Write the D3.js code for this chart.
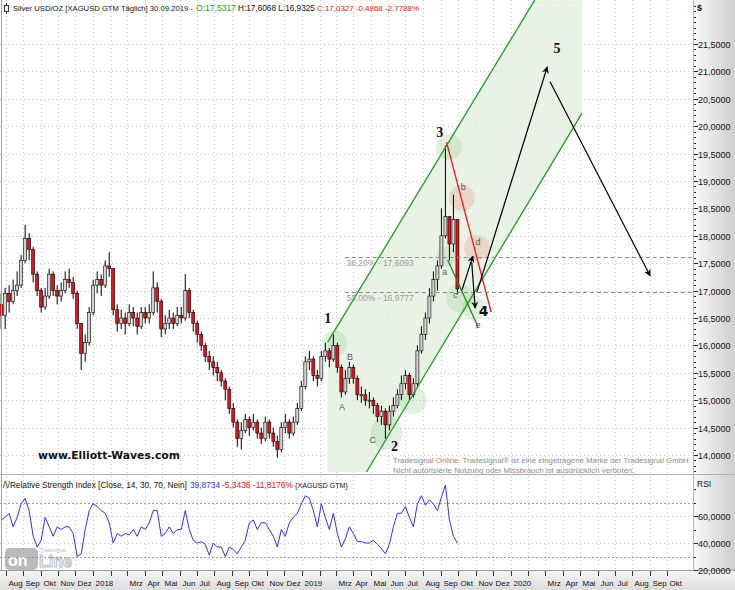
<!DOCTYPE html>
<html><head><meta charset="utf-8">
<script src="https://cdn.jsdelivr.net/npm/d3@7"></script>
<style>
body{margin:0;background:#fff;}
svg{display:block;font-family:"Liberation Sans",Arial,sans-serif;}
</style>
</head><body>
<svg id="c" width="735" height="590"></svg>
<script>
// ---------------- DATA ----------------
// weekly bars, first week starting 2017-07-24
const firstWeek = "2017-07-24";
const firstOpen = 16.75;
const closes = [16.55,16.95,16.80,17.00,17.10,17.55,17.95,17.75,17.30,17.00,
16.70,16.90,17.30,17.00,16.90,17.00,17.20,17.15,16.95,16.40,
15.85,16.05,16.60,17.10,17.20,17.10,17.45,17.40,16.65,16.40,
16.50,16.40,16.60,16.50,16.35,16.60,16.50,16.60,17.05,16.80,
16.30,16.40,16.50,16.40,16.55,16.50,17.00,16.60,16.40,16.20,
16.00,15.80,15.70,15.60,15.50,15.35,15.20,14.85,14.60,14.30,
14.45,14.65,14.50,14.60,14.40,14.30,14.60,14.40,14.25,14.10,
14.50,14.60,14.40,14.60,14.85,15.25,15.70,15.75,15.45,15.40,
15.80,15.90,15.75,16.00,15.60,15.15,15.40,15.60,15.40,15.10,
15.10,15.00,15.00,14.90,14.70,14.80,14.55,14.80,14.90,15.10,
15.30,15.45,15.10,15.30,15.90,16.20,16.50,16.90,17.20,17.45,
18.00,18.35,17.85,18.30,17.03];
const highs = [16.95,17.05,17.10,17.20,17.35,17.65,18.20,18.05,17.80,17.35,
17.05,17.05,17.40,17.35,17.10,17.15,17.35,17.40,17.25,17.00,
16.40,16.20,16.70,17.20,17.35,17.30,17.55,17.70,17.40,16.75,
16.65,16.60,16.75,16.70,16.60,16.70,16.70,16.75,17.35,17.15,
16.85,16.55,16.65,16.60,16.70,16.70,17.30,17.05,16.65,16.45,
16.25,16.05,15.90,15.80,15.70,15.55,15.40,15.25,14.95,14.65,
14.60,14.75,14.70,14.75,14.65,14.50,14.70,14.65,14.50,14.35,
14.60,14.75,14.65,14.70,14.95,15.35,15.80,15.90,15.80,15.55,
15.90,16.05,15.95,16.20,16.05,15.65,15.55,15.70,15.65,15.45,
15.25,15.20,15.15,15.05,14.95,14.90,14.85,14.90,15.05,15.20,
15.45,15.55,15.50,15.40,16.00,16.35,16.60,17.05,17.35,17.55,
18.50,19.65,18.30,18.75,17.61];
const lows = [16.30,16.30,16.60,16.75,16.90,17.05,17.50,17.55,17.15,16.90,
16.60,16.65,16.85,16.90,16.75,16.80,16.95,17.05,16.85,16.30,
15.55,15.70,16.00,16.55,16.95,16.90,17.05,17.25,16.55,16.25,
16.30,16.20,16.35,16.35,16.20,16.30,16.40,16.40,16.55,16.60,
16.15,16.20,16.30,16.30,16.35,16.40,16.45,16.50,16.25,16.05,
15.90,15.70,15.55,15.45,15.35,15.25,15.00,14.75,14.50,14.15,
14.10,14.40,14.35,14.45,14.30,14.20,14.25,14.30,14.15,13.95,
14.05,14.40,14.30,14.35,14.55,14.80,15.20,15.55,15.35,15.25,
15.35,15.70,15.60,15.70,15.50,15.05,15.10,15.30,15.30,15.00,
14.95,14.90,14.85,14.75,14.60,14.55,14.30,14.45,14.70,14.85,
15.00,15.20,15.00,15.05,15.25,15.85,16.10,16.40,16.80,17.00,
17.40,17.95,17.55,17.70,16.93];
// RSI (14) weekly samples
const rsi = [57,59,62,52,59,69,73,64,45,37,
42,59,52,45,52,50,52,52,47,30,
32,50,64,69,67,64,62,55,40,47,
45,47,46,50,45,52,50,55,64,64,
45,47,52,47,50,50,64,50,42,40,
41,39,31,40,37,37,30,37,35,32,
37,42,55,57,50,55,55,50,45,37,
50,45,55,59,62,69,75,73,64,52,
69,59,50,62,47,37,43,52,47,41,
41,40,40,42,39,36,32,39,52,62,
62,67,59,52,69,75,68,72,69,64,
74,83,57,45,39.87];
const priceTicks = [14,14.5,15,15.5,16,16.5,17,17.5,18,18.5,19,19.5,20,20.5,21,21.5];
const rsiTicks = [20,40,60];
const rsiLevels = [30,70];
const monthNames = ["","","Mrz","Apr","Mai","Jun","Jul","Aug","Sep","Okt","Nov","Dez"];
const fibLevels = [{label:"38,20% - 17,6093", value:17.6093},{label:"50,00% - 16,9777", value:16.9777}];
// Elliott annotations (date, price)
const upperChannel = [["2019-02-15",16.06],["2020-02-12",22.30]];
const lowerChannel = [["2019-04-24",13.69],["2020-05-05",20.24]];
const channelBox = {from:"2019-02-15", to:"2020-05-05", top:22.30, bottom:13.69};
const redLine = [["2019-09-11",19.71],["2019-11-28",16.61]];
const greenLine = [["2019-09-13",17.56],["2019-11-05",16.34]];
const arrows = [
 [["2019-10-08",17.01],["2019-10-27",17.63]],
 [["2019-10-25",17.52],["2019-10-31",16.68]],
 [["2019-11-03",16.97],["2020-03-05",21.08]],
 [["2020-03-10",20.81],["2020-09-01",17.27]]
];
const greenCircles = [["2019-02-27",16.04,13],["2019-05-29",14.40,16],["2019-07-14",15.0,14],["2019-09-15",19.62,13],["2019-09-11",17.63,10],["2019-10-04",16.86,14],["2019-10-29",16.68,12]];
const redCircles = [["2019-10-08",18.69,13],["2019-11-03",17.78,13]];
const waveLabels = [["1","2019-02-15",16.41],["2","2019-06-12",14.07],["3","2019-08-30",19.80],["4","2019-11-15",16.54],["5","2020-03-22",21.34]];
const subLabels = [["A","2019-03-12",14.82],["B","2019-03-26",15.73],["C","2019-05-05",14.22],["a","2019-09-08",17.28],["b","2019-10-10",18.84],["c","2019-09-26",16.86],["d","2019-11-05",17.83],["e","2019-11-05",16.32]];

// ---------------- LAYOUT ----------------
const W=735,H=590, plotR=693, mainTop=0, mainBot=473, rsiTop=476, rsiBot=570;
const svg=d3.select("#c");
const pd=d3.utcParse("%Y-%m-%d");
const x=d3.scaleUtc().domain([pd("2017-07-22"),pd("2020-11-15")]).range([0,plotR]);
const y=d3.scaleLinear().domain([14,21.5]).range([455,44]);
const yr=d3.scaleLinear().domain([20,60]).range([570,516]);
const fmt=v=>d3.format(".4f")(v).replace(".",",");

const defs=svg.append("defs");
const gR=defs.append("linearGradient").attr("id","gr").attr("x1",0).attr("x2",1).attr("y1",0).attr("y2",0);
gR.append("stop").attr("offset","0").attr("stop-color","#fafafa");
gR.append("stop").attr("offset","1").attr("stop-color","#cfcfcf");
const gB=defs.append("linearGradient").attr("id","gb").attr("x1",0).attr("x2",0).attr("y1",0).attr("y2",1);
gB.append("stop").attr("offset","0").attr("stop-color","#f6f6f6");
gB.append("stop").attr("offset","1").attr("stop-color","#dcdcdc");
defs.append("clipPath").attr("id","cm").append("rect").attr("x",0).attr("y",mainTop).attr("width",plotR).attr("height",mainBot-mainTop);
defs.append("clipPath").attr("id","cr").append("rect").attr("x",0).attr("y",rsiTop).attr("width",plotR).attr("height",rsiBot-rsiTop);
defs.append("marker").attr("id","ah").attr("viewBox","0 0 10 10").attr("refX",9).attr("refY",5)
 .attr("markerWidth",7).attr("markerHeight",7).attr("orient","auto-start-reverse").attr("markerUnits","userSpaceOnUse")
 .append("path").attr("d","M0,0L10,5L0,10L3,5Z").attr("fill","#000");

svg.append("rect").attr("width",W).attr("height",H).attr("fill","#fff");
svg.append("rect").attr("x",plotR).attr("y",0).attr("width",W-plotR).attr("height",rsiBot).attr("fill","url(#gr)");
svg.append("rect").attr("x",0).attr("y",rsiBot).attr("width",W).attr("height",H-rsiBot).attr("fill","url(#gb)");

// grid
const months=d3.utcMonth.range(pd("2017-08-01"),pd("2020-11-01"));
const grid=svg.append("g").attr("stroke","#c9c9c9").attr("stroke-dasharray","1,3").attr("stroke-width",1);
months.forEach(m=>{
  const xx=Math.round(x(m))+0.5;
  grid.append("line").attr("x1",xx).attr("x2",xx).attr("y1",mainTop).attr("y2",mainBot);
  grid.append("line").attr("x1",xx).attr("x2",xx).attr("y1",rsiTop).attr("y2",rsiBot);
});
priceTicks.forEach(p=>{const yy=Math.round(y(p))+0.5;grid.append("line").attr("x1",0).attr("x2",plotR).attr("y1",yy).attr("y2",yy);});
[40,60].forEach(v=>{const yy=Math.round(yr(v))+0.5;grid.append("line").attr("x1",0).attr("x2",plotR).attr("y1",yy).attr("y2",yy);});
rsiLevels.forEach(v=>{const yy=Math.round(yr(v))+0.5;svg.append("line").attr("x1",0).attr("x2",plotR).attr("y1",yy).attr("y2",yy).attr("stroke","#9a9a9a").attr("stroke-dasharray","2,2");});

// ---- channel annotations (behind candles)
const ann=svg.append("g").attr("clip-path","url(#cm)");
const P=a=>[x(pd(a[0])),y(a[1])];
const bx0=x(pd(channelBox.from)), bx1=x(pd(channelBox.to)), ty=y(channelBox.top), by=y(channelBox.bottom);
const U0=P(upperChannel[0]),U1=P(upperChannel[1]),L0=P(lowerChannel[0]),L1=P(lowerChannel[1]);
ann.append("path").attr("d",`M${bx0},${U0[1]}L${U1[0]},${U1[1]}L${bx1},${ty}L${bx1},${L1[1]}L${L0[0]},${L0[1]}L${bx0},${by}Z`)
  .attr("fill","#e4f1e0").attr("opacity",0.85);
greenCircles.forEach(c=>ann.append("circle").attr("cx",x(pd(c[0]))).attr("cy",y(c[1])).attr("r",c[2]).attr("fill","#a9d3a2").attr("opacity",0.35));
redCircles.forEach(c=>ann.append("circle").attr("cx",x(pd(c[0]))).attr("cy",y(c[1])).attr("r",c[2]).attr("fill","#e8b4a8").attr("opacity",0.45));

// ---- candles
const start=pd(firstWeek);
const bars=closes.map((c,i)=>({d:d3.utcDay.offset(start,7*i),o:i?closes[i-1]:firstOpen,c,h:highs[i],l:lows[i]}));
const cg=svg.append("g").attr("clip-path","url(#cm)");
bars.forEach(b=>{
  const xx=x(b.d);
  cg.append("line").attr("x1",xx).attr("x2",xx).attr("y1",y(b.h)).attr("y2",y(b.l)).attr("stroke","#000").attr("stroke-width",1);
  const top=y(Math.max(b.o,b.c)), bot=y(Math.min(b.o,b.c));
  cg.append("rect").attr("x",xx-1.5).attr("y",top).attr("width",3).attr("height",Math.max(1,bot-top))
    .attr("fill",b.c<b.o?"#e0151b":"#d4d4d4").attr("stroke","#000").attr("stroke-width",0.6);
});

// ---- lines on top
const ln=svg.append("g").attr("clip-path","url(#cm)");
const line2=(l,col,w)=>{const a=P(l[0]),b=P(l[1]);return ln.append("line").attr("x1",a[0]).attr("y1",a[1]).attr("x2",b[0]).attr("y2",b[1]).attr("stroke",col).attr("stroke-width",w);};
line2(upperChannel,"#1f9a1f",1.3);
line2(lowerChannel,"#1f9a1f",1.3);
line2(greenLine,"#1f8a1f",1.3);
line2(redLine,"#ff1010",1.3);
fibLevels.forEach(f=>{
  const yy=Math.round(y(f.value))+0.5;
  ln.append("line").attr("x1",x(pd("2019-03-17"))).attr("x2",plotR).attr("y1",yy).attr("y2",yy).attr("stroke","#8a8a8a").attr("stroke-dasharray","4,3");
  ln.append("text").attr("x",x(pd("2019-03-20"))).attr("y",yy+8).attr("font-size",8.5).attr("fill","#9a9a9a").text(f.label);
});
arrows.forEach(a=>line2(a,"#000",1.2).attr("marker-end","url(#ah)"));
waveLabels.forEach(l=>ln.append("text").attr("x",x(pd(l[1]))).attr("y",y(l[2])).attr("text-anchor","middle")
  .attr("font-family",l[0]==="4"?"'DejaVu Sans',sans-serif":"'Liberation Serif',serif").attr("font-weight","bold").attr("font-size",14).attr("fill","#111").text(l[0]));
subLabels.forEach(l=>ln.append("text").attr("x",x(pd(l[1]))).attr("y",y(l[2])).attr("text-anchor","middle")
  .attr("font-size",9).attr("fill","#555").text(l[0]));

// ---- RSI
svg.append("path").datum(rsi).attr("clip-path","url(#cr)")
  .attr("d",d3.line().x((v,i)=>x(d3.utcDay.offset(start,7*i))).y(v=>yr(v)))
  .attr("fill","none").attr("stroke","#2f2fff").attr("stroke-width",1);

// ---- panel borders
svg.append("line").attr("x1",1.5).attr("x2",1.5).attr("y1",0).attr("y2",rsiBot).attr("stroke","#a0a0a0");
svg.append("line").attr("x1",0).attr("x2",W).attr("y1",474.5).attr("y2",474.5).attr("stroke","#b0b0b0");
svg.append("line").attr("x1",0).attr("x2",W).attr("y1",rsiBot+0.5).attr("y2",rsiBot+0.5).attr("stroke","#a0a0a0");
svg.append("line").attr("x1",plotR+0.5).attr("x2",plotR+0.5).attr("y1",0).attr("y2",rsiBot).attr("stroke","#b8b8b8");

// ---- right axes
const ra=svg.append("g");
d3.range(137,223).map(v=>v/10).forEach(v=>{const yy=Math.round(y(v))+0.5; if(yy>2&&yy<472) ra.append("line").attr("x1",plotR+1).attr("x2",plotR+3).attr("y1",yy).attr("y2",yy).attr("stroke","#222");});
priceTicks.forEach(p=>{const yy=Math.round(y(p))+0.5;
  ra.append("line").attr("x1",plotR+1).attr("x2",plotR+5).attr("y1",yy).attr("y2",yy).attr("stroke","#222");
  ra.append("text").attr("x",plotR+5).attr("y",yy+3.5).attr("font-size",9).attr("fill","#111").text(fmt(p));});
ra.append("text").attr("x",plotR+4).attr("y",11).attr("font-size",9).attr("font-weight","bold").attr("fill","#111").text("$");
[30,50,70,80].forEach(v=>{const yy=Math.round(yr(v))+0.5;ra.append("line").attr("x1",plotR+1).attr("x2",plotR+3).attr("y1",yy).attr("y2",yy).attr("stroke","#222");});
rsiTicks.forEach(v=>{const yy=Math.round(yr(v))+0.5;
  ra.append("line").attr("x1",plotR+1).attr("x2",plotR+5).attr("y1",yy).attr("y2",yy).attr("stroke","#222");
  ra.append("text").attr("x",plotR+5).attr("y",yy+3.5).attr("font-size",9).attr("fill","#111").text(fmt(v));});
ra.append("text").attr("x",plotR+4).attr("y",487).attr("font-size",8.5).attr("fill","#111").text("RSI");

// ---- bottom axis
const ba=svg.append("g");
months.forEach(m=>{const xx=Math.round(x(m))+0.5;
  ba.append("line").attr("x1",xx).attr("x2",xx).attr("y1",rsiBot+1).attr("y2",rsiBot+6).attr("stroke","#333");
  const lab=m.getUTCMonth()===0?String(m.getUTCFullYear()):monthNames[m.getUTCMonth()];
  if(lab) ba.append("text").attr("x",xx+2).attr("y",586).attr("font-size",8).attr("fill","#111").text(lab);});

// ---- headers & texts: font size fitted so the natural width matches the reference span
const seg=(txt,x0,len,yy,col,fs,extra)=>{
  const t=svg.append("text").attr("x",x0).attr("y",yy).attr("font-size",fs).attr("fill",col).text(txt);
  if(extra) extra(t);
  const n=t.node().getComputedTextLength();
  if(n>len) t.attr("font-size",(fs*len/n).toFixed(2));
  return t;};
seg("Silver USD/OZ [XAGUSD GTM  Täglich] 30.09.2019 -",13,180,11,"#111",9.5);
seg("O:17,5317",196,40,11,"#1aa31a",9.5);
seg("H:17,6068 L:16,9325",238,77,11,"#111",9.5);
seg("C:17,0327 -0,4868 -2,7788%",317,102,11,"#ee1111",9.5);
svg.append("line").attr("x1",6.5).attr("x2",6.5).attr("y1",3).attr("y2",14).attr("stroke","#333");
svg.append("rect").attr("x",4.5).attr("y",5.5).attr("width",4).attr("height",6).attr("fill","#fff").attr("stroke","#333");

seg("/\\/Relative Strength Index [Close, 14, 30, 70, Nein]",3,184,488,"#111",9.5);
seg("39,8734",190,30,488,"#3333ee",9.5);
seg("-5,3436 -11,8176%",222,71,488,"#ee1111",9.5);
seg("{XAGUSD GTM}",295,53,488,"#111",9.5);

seg("www.Elliott-Waves.com",38,142,459,"#111",12,t=>t.attr("font-family","'DejaVu Sans',sans-serif").attr("font-weight","bold"));
seg("Tradesignal Online. Tradesignal® ist eine eingetragene Marke der Tradesignal GmbH.",393,298,463,"#8c8c8c",9);
seg("Nicht autorisierte Nutzung oder Missbrauch ist ausdrücklich verboten.",393,242,473,"#8c8c8c",9);

// Online logo
const lg=svg.append("g").attr("opacity",0.5);
lg.append("rect").attr("x",5).attr("y",548).attr("width",33).attr("height",22).attr("rx",5).attr("fill","#7a7a7a");
lg.append("text").attr("x",8).attr("y",566).attr("font-size",16).attr("font-weight","bold").attr("fill","#fff").text("on");
lg.append("text").attr("x",39).attr("y",567).attr("font-size",16).attr("font-weight","bold").attr("fill","#fff").attr("stroke","#7a7a7a").attr("stroke-width",1).text("Line");
lg.append("text").attr("x",40).attr("y",552).attr("font-size",5).attr("fill","#7a7a7a").text("Tradesignal");
</script>
</body></html>
